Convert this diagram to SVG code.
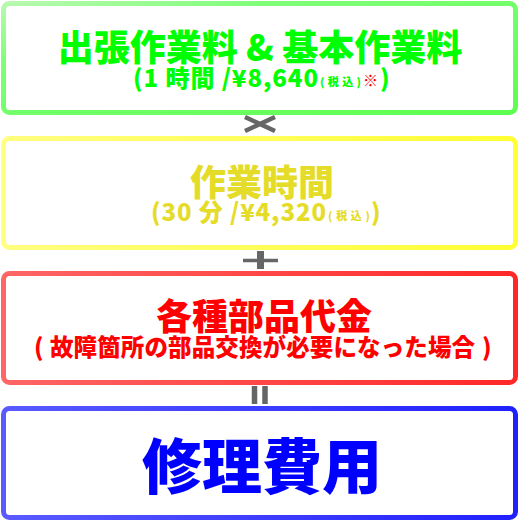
<svg xmlns="http://www.w3.org/2000/svg" width="520" height="520" viewBox="0 0 520 520">
<defs>
<linearGradient id="gG" x1="0" y1="0" x2="1" y2="1"><stop offset="0" stop-color="#b8f8b0"/><stop offset="0.25" stop-color="#80ff78"/><stop offset="1" stop-color="#5cff50"/></linearGradient>
<linearGradient id="gY" x1="0" y1="0" x2="1" y2="0"><stop offset="0" stop-color="#ffff80"/><stop offset="1" stop-color="#ffff33"/></linearGradient>
<linearGradient id="gR" x1="0" y1="0" x2="1" y2="0"><stop offset="0" stop-color="#ff6666"/><stop offset="1" stop-color="#ff2828"/></linearGradient>
<linearGradient id="gB" x1="0" y1="0" x2="1" y2="0"><stop offset="0" stop-color="#5a5aff"/><stop offset="1" stop-color="#2020ff"/></linearGradient>
</defs>
<style>
.box{fill:#fff;stroke-width:5}
text{font-family:"Noto Sans CJK JP","Noto Sans CJK SC",sans-serif;font-weight:900}
.t{font-size:36px;text-anchor:middle}
.s{font-size:24px}
.k{font-size:11px}
.op{stroke:#666;fill:none}
</style>
<g id="connectors">
<path class="op" d="M245,117 L275,131 M245,131 L275,117" stroke-width="4.5"/>
<path class="op" d="M243,260.5 H278" stroke-width="3.5"/>
<path class="op" d="M260.5,251 V269" stroke-width="7"/>
<path class="op" d="M254.5,386 V404 M265,386 V404" stroke-width="5.5"/>
</g>
<g id="node1">
<rect class="box" x="3.5" y="3.5" width="512" height="109" rx="6" stroke="url(#gG)"/>
<text class="t" x="260" y="60.5" fill="#00ff00">出張作業料 &amp; 基本作業料</text>
<text class="s" x="133" y="87" fill="#00ff00" textLength="185" lengthAdjust="spacing">(1 時間 /¥8,640</text>
<text class="k" x="320" y="86" fill="#00ff00" textLength="41" lengthAdjust="spacing">(税込)</text>
<text x="363" y="86" fill="#ff0000" font-size="15">※</text>
<text class="s" x="380" y="87" fill="#00ff00">)</text>
</g>
<g id="node2">
<rect class="box" x="3.5" y="138.5" width="512" height="109" rx="6" stroke="url(#gY)"/>
<text class="t" x="262" y="195.5" fill="#e5dc2a">作業時間</text>
<text class="s" x="151" y="221" fill="#e5dc2a" textLength="175" lengthAdjust="spacing">(30 分 /¥4,320</text>
<text class="k" x="328" y="220" fill="#e5dc2a" textLength="42" lengthAdjust="spacing">(税込)</text>
<text class="s" x="371" y="221" fill="#e5dc2a">)</text>
</g>
<g id="node3">
<rect class="box" x="3.5" y="273.5" width="512" height="109" rx="6" stroke="url(#gR)"/>
<text class="t" x="264" y="330" fill="#ff0000">各種部品代金</text>
<text x="34" y="356" fill="#ff0000" font-size="24">(</text>
<text x="50" y="356" fill="#ff0000" font-size="23.5" textLength="425" lengthAdjust="spacing">故障箇所の部品交換が必要になった場合</text>
<text x="482" y="356" fill="#ff0000" font-size="24">)</text>
</g>
<g id="node4">
<rect class="box" x="3.5" y="408.5" width="512" height="109" rx="6" stroke="url(#gB)"/>
<text x="262" y="489" fill="#0000ff" font-size="60" text-anchor="middle">修理費用</text>
</g>
</svg>
